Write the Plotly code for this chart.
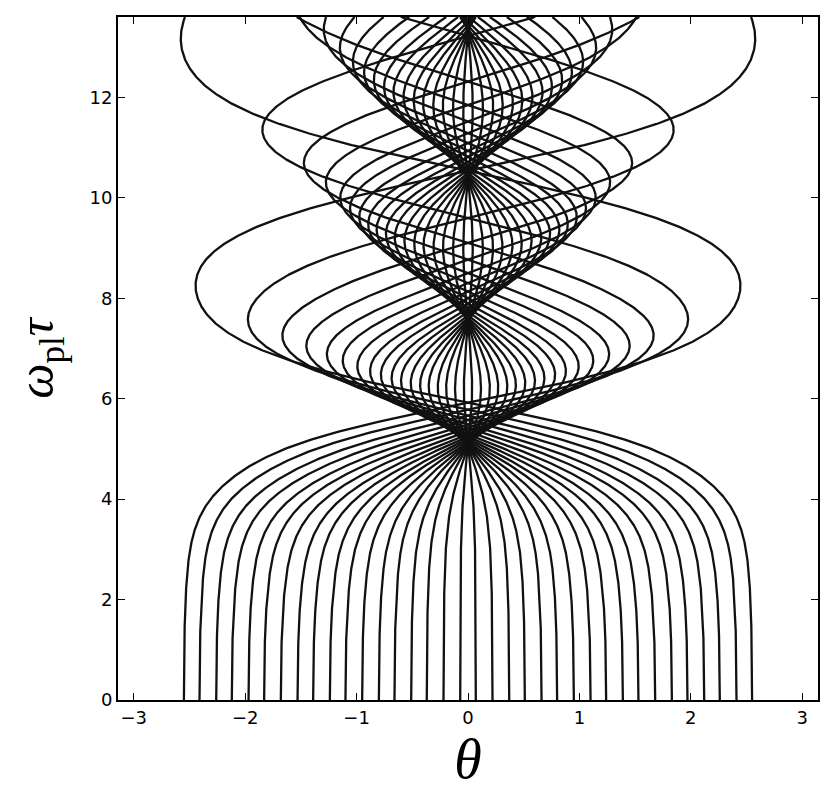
import numpy as np
import plotly.graph_objects as go

# starting angles of the 36 trajectories (symmetric about 0)
theta_pos = [0.07, 0.22, 0.37, 0.51, 0.66, 0.80, 0.95, 1.10, 1.24,
             1.39, 1.53, 1.68, 1.83, 1.97, 2.12, 2.26, 2.41, 2.55]
theta_start = [-t for t in theta_pos[::-1]] + theta_pos

# restoring strength (omega_b^2) vs omega_pl*tau, tuned to the caustics in the picture
drive_tau = [0, 1.5, 2.5, 3.25, 4, 4.5, 5, 5.5, 6, 6.5, 7.25, 8, 9, 10, 11, 12, 13.6]
drive_w = [0.007, 0.020, 0.069, 0.278, 0.647, 0.734, 1.397, 1.906, 1.928,
           1.431, 1.254, 0.897, 1.292, 1.283, 1.296, 1.155, 0.651]

tau_max = 13.6
x_ticks = [-3, -2, -1, 0, 1, 2, 3]
y_ticks = [0, 2, 4, 6, 8, 10, 12]


def trajectories(th0, dt=0.01):
    """theta'' = -W(tau) sin(theta), starting at rest, RK4."""
    n = int(round(tau_max / dt))
    th = np.array(th0, dtype=float)
    v = np.zeros_like(th)
    out = np.zeros((n + 1, len(th)))
    out[0] = th
    for k in range(n):
        t = k * dt
        w1, w2, w3 = np.interp([t, t + dt / 2, t + dt], drive_tau, drive_w)
        k1x, k1v = v, -w1 * np.sin(th)
        k2x, k2v = v + dt / 2 * k1v, -w2 * np.sin(th + dt / 2 * k1x)
        k3x, k3v = v + dt / 2 * k2v, -w2 * np.sin(th + dt / 2 * k2x)
        k4x, k4v = v + dt * k3v, -w3 * np.sin(th + dt * k3x)
        th = th + dt / 6 * (k1x + 2 * k2x + 2 * k3x + k4x)
        v = v + dt / 6 * (k1v + 2 * k2v + 2 * k3v + k4v)
        out[k + 1] = th
    return np.arange(n + 1) * dt, out


taus, path = trajectories(theta_start)

xs, ys = [], []
for j in range(len(theta_start)):
    xs += list(path[:, j]) + [None]
    ys += list(taus) + [None]

fig = go.Figure(
    go.Scatter(
        x=xs,
        y=ys,
        mode="lines",
        line=dict(color="#111111", width=2.3),
        showlegend=False,
        hoverinfo="skip",
    )
)
fig.update_layout(
    width=831,
    height=809,
    margin=dict(l=110, r=21, t=7, b=117),
    paper_bgcolor="white",
    plot_bgcolor="white",
)
axis_common = dict(
    showgrid=False, zeroline=False, showline=True, linecolor="black", linewidth=2,
    mirror="ticks", ticks="inside", ticklen=7, tickwidth=1, tickcolor="black",
    tickfont=dict(family="DejaVu Sans", size=18, color="black"),
)
fig.update_xaxes(
    range=[-3.1416, 3.1416], tickvals=x_ticks, **axis_common,
    title=dict(text="<i>θ</i>", font=dict(family="Liberation Serif", size=56, color="black"), standoff=8),
)
fig.update_yaxes(
    range=[0, tau_max], tickvals=y_ticks, **axis_common,
    title=dict(text="<i>ω</i><sub>pl</sub><i>τ</i>",
               font=dict(family="Liberation Serif", size=50, color="black"), standoff=20),
)
fig.write_html("out.html")
